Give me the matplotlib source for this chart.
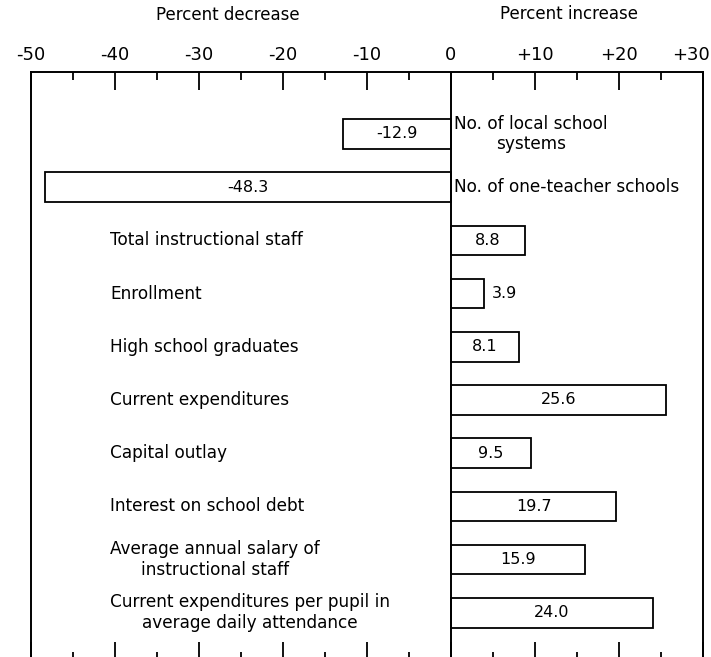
import numpy as np
import matplotlib
matplotlib.use("Agg")
import matplotlib.pyplot as plt
from matplotlib.transforms import ScaledTranslation

# percent change, top row first
categories = [
    "No. of local school\nsystems",
    "No. of one-teacher schools",
    "Total instructional staff",
    "Enrollment",
    "High school graduates",
    "Current expenditures",
    "Capital outlay",
    "Interest on school debt",
    "Average annual salary of\ninstructional staff",
    "Current expenditures per pupil in\naverage daily attendance",
]
changes = [-12.9, -48.3, 8.8, 3.9, 8.1, 25.6, 9.5, 19.7, 15.9, 24.0]

tick_values = [-50, -40, -30, -20, -10, 0, 10, 20, 30]
tick_labels = ["-50", "-40", "-30", "-20", "-10", "0", "+10", "+20", "+30"]

plt.rcParams["font.family"] = "DejaVu Sans"

W, H = 711, 657
fig = plt.figure(figsize=(W / 100, H / 100), dpi=100)
# frame: left 31px, right 703px, top 72px, bottom just below the picture
ax = fig.add_axes([31 / W, -3 / H, (703 - 31) / W, (660 - 72) / H])

pos = np.arange(len(changes))
ax.barh(pos, changes, height=0.56, color="white", edgecolor="black", linewidth=1.3, zorder=2)
ax.axvline(0, color="black", linewidth=1.4, zorder=3)

for y, v, name in zip(pos, changes, categories):
    if abs(v) < 5:
        ax.text(v + 0.9, y, f"{v:.1f}", ha="left", va="center", fontsize=11.5)
    else:
        ax.text(v / 2, y, f"{v:.1f}", ha="center", va="center", fontsize=11.5)
    if v < 0:
        # labels of the decreases sit right of the zero line
        ax.text(0.4, y, name, ha="left", va="center", fontsize=12.2,
                multialignment="center", linespacing=1.2)
    else:
        ax.text(-40.6, y, name, ha="left", va="center", fontsize=12.2,
                multialignment="center", linespacing=1.2)

ax.set_xlim(-50, 30)
# row 0 centred 134px from the top, 53.2px per row
ax.set_ylim((660 - 134) / 53.2, -(134 - 72) / 53.2)
ax.set_yticks([])

ax.set_xticks(tick_values)
ax.set_xticklabels(tick_labels)
ax.set_xticks(np.arange(-45, 30, 10), minor=True)
ax.tick_params(axis="x", which="both", direction="in", top=True, bottom=True,
               labeltop=True, labelbottom=False, width=1.3, pad=6, labelsize=13)
ax.tick_params(axis="x", which="major", length=13)
ax.tick_params(axis="x", which="minor", length=6)

# keep the last label inside the picture, flush with the right edge
last = ax.get_xticklabels()[-1]
last.set_horizontalalignment("right")
last.set_transform(last.get_transform() + ScaledTranslation(0.07, 0, fig.dpi_scale_trans))

for side in ["left", "right", "top"]:
    ax.spines[side].set_linewidth(1.4)
ax.spines["bottom"].set_visible(False)

fig.text(228 / W, 1 - 15 / H, "Percent decrease", ha="center", va="center", fontsize=12)
fig.text(569 / W, 1 - 14 / H, "Percent increase", ha="center", va="center", fontsize=12)

fig.savefig("out.png", dpi=100)
